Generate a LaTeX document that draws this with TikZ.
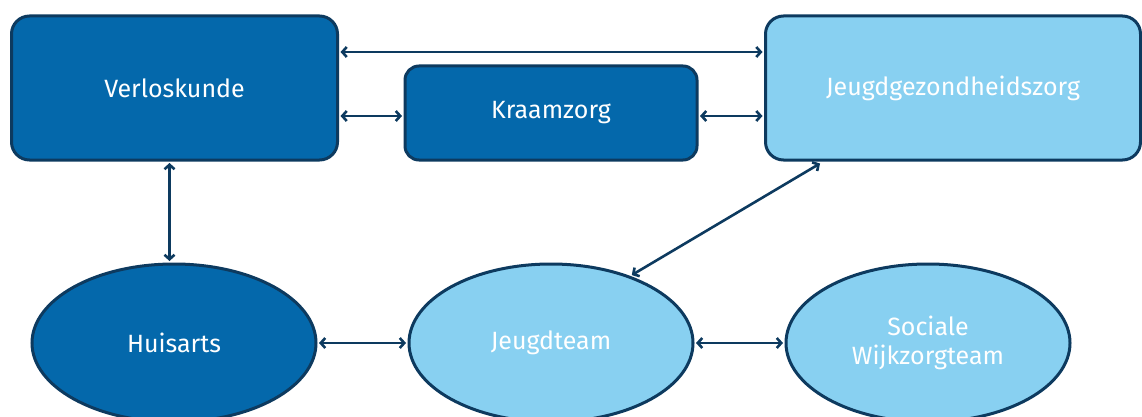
\documentclass[tikz,border=0pt]{standalone}
\usepackage{fontspec}
\setmainfont{Fira Sans}
\usetikzlibrary{shapes.geometric,arrows.meta,calc}
\definecolor{dkblue}{HTML}{0468AB}
\definecolor{ltblue}{HTML}{88D0F1}
\definecolor{navy}{HTML}{0D3A5F}
\begin{document}
\begin{tikzpicture}[x=1pt,y=1pt,
  lbl/.style={text=white,font=\fontsize{25}{29}\selectfont,align=center},
  rbox/.style={lbl,draw=navy,line width=3pt,rounded corners=18pt,inner sep=0pt},
  ell/.style={lbl,ellipse,draw=navy,line width=3pt,inner sep=0pt,minimum width=284pt,minimum height=158pt},
  arr/.style={draw=navy,line width=2.6pt,{Straight Barb[length=4.5pt,width=10pt]}-{Straight Barb[length=4.5pt,width=10pt]}}]
\useasboundingbox (0,0) rectangle (1142,416);
\node[rbox,fill=dkblue,minimum width=326pt,minimum height=144pt] (vk) at (174.5,328) {Verloskunde};
\node[rbox,fill=dkblue,minimum width=292pt,minimum height=94pt,rounded corners=14pt] (kz) at (551,303) {Kraamzorg};
\node[rbox,fill=ltblue,minimum width=375pt,minimum height=144pt] (jgz) at (953,328) {Jeugdgezondheidszorg};
\node[ell,fill=dkblue] (ha) at (174,73) {Huisarts};
\node[ell,fill=ltblue] (jt) at (551,73) {Jeugdteam};
\node[ell,fill=ltblue] (swt) at (928,73) {Sociale\\Wijkzorgteam};
\coordinate (a1) at ([yshift=36pt]vk.east);
\coordinate (a2) at ([yshift=-28pt]vk.east);
\coordinate (a3) at ([xshift=-5pt]vk.south);
\coordinate (a4) at ([xshift=56pt]jgz.south west);
\coordinate (a5) at (kz.east |- a2);
\draw[arr] ([xshift=1.5pt]a1) -- ([xshift=-1.5pt]a1 -| jgz.west);
\draw[arr] ([xshift=1.5pt]a2) -- ([xshift=-1.5pt]a2 -| kz.west);
\draw[arr] ([xshift=1.5pt]a5) -- ([xshift=-1.5pt]a5 -| jgz.west);
\draw[arr] ([yshift=-1.5pt]a3) -- ([yshift=1.5pt]a3 |- ha.north);
\draw[arr] ([xshift=1.5pt]ha.east) -- ([xshift=-1.5pt]jt.west);
\draw[arr] ([xshift=1.5pt]jt.east) -- ([xshift=-1.5pt]swt.west);
\draw[arr] ([shift={(1pt,1pt)}]jt.40) -- ([yshift=-2pt]a4);
\end{tikzpicture}
\end{document}
